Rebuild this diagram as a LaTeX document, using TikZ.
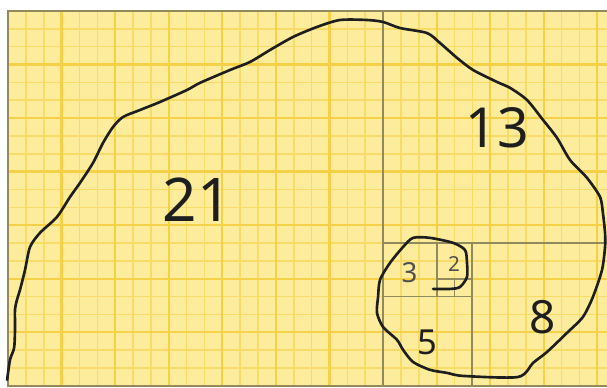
\documentclass[tikz,border=0pt]{standalone}
\usepackage{fontspec}
\setmainfont{Noto Sans}
\definecolor{papel}{HTML}{FCEC9C}
\definecolor{rejilla}{HTML}{F9DC68}
\definecolor{rejillaF}{HTML}{F6D046}
\definecolor{borde}{HTML}{918A5C}
\definecolor{tinta}{HTML}{1E1E1E}
\definecolor{gris}{HTML}{505050}

\begin{document}
\begin{tikzpicture}[line width=1pt,
  cuadro/.style={draw=borde,line width=2.8pt},
  num/.style={inner sep=0pt,text=tinta,font=\fontsize{#1}{#1}\selectfont}]
  \useasboundingbox (-0.45,-0.11) rectangle (33.54,21.61);
  \fill[white] (-0.45,-0.11) rectangle (33.54,21.61);
  % ===================== papel cuadriculado =====================
  \fill[papel] (0,0) rectangle (33.54,21);
  \foreach \x in {1,...,33} \draw[rejilla,line width=2.6pt] (\x,0)--(\x,21);
  \foreach \y in {1,...,20} \draw[rejilla,line width=2.6pt] (0,\y)--(33.54,\y);
  \foreach \x in {3,6,...,33} \draw[rejillaF,line width=3.6pt] (\x,0)--(\x,21);
  \foreach \y in {3,6,...,18} \draw[rejillaF,line width=3.6pt] (0,\y)--(33.54,\y);
  \draw[borde,line width=3pt] (33.54,21)--(0,21)--(0,0)--(33.54,0);
  % ===================== cuadrados de Fibonacci =====================
  \draw[cuadro] (21,0)--(21,21);
  \draw[cuadro] (21,8)--(33.54,8);
  \draw[cuadro] (26,0)--(26,8);
  \draw[cuadro] (21,5)--(26,5);
  \draw[cuadro] (24,5)--(24,8);
  \draw[cuadro] (24,6)--(26,6);
  \draw[cuadro] (25,5)--(25,6);
  % ---------- numeros ----------
  \node[num=96] (n21) at (10.6,10.4){21};
  \node[num=88] (n13) at (27.4,14.45){13};
  \node[num=73] (n8) at (29.95,3.86){8};
  \node[num=55] (n5) at (23.46,2.46){5};
  \node[num=44,text=gris] (n3) at (22.48,6.33){3};
  \node[num=33,text=gris] (n2) at (24.97,6.8){2};
  % ---------- espiral a mano ----------
  \draw[tinta,line width=4.2pt,line cap=round,line join=round]
    plot[smooth,tension=0.45] coordinates {
    (-0.05,0.34) (0.11,1.46) (0.34,2.13) (0.39,3.14) (0.39,4.26) (0.50,4.82)
    (0.67,5.38) (0.95,6.49) (1.23,7.78) (1.79,8.57) (2.74,9.46) (3.47,10.58)
    (4.03,11.37) (4.76,12.49) (5.32,13.61) (5.88,14.50) (6.44,15.06) (7.39,15.45)
    (8.51,15.90) (10.02,16.57) (10.75,16.97) (12.43,17.69) (13.55,18.14) (14.67,18.81)
    (15.96,19.54) (17.30,20.10) (18.59,20.49) (20.10,20.49) (21.00,20.38) (21.95,20.04)
    (23.46,19.76) (24.19,19.20) (25.14,18.37) (26.04,17.69) (27.38,17.02) (28.11,16.69)
    (29.06,16.01) (29.96,14.89) (30.74,13.89) (31.47,12.65) (32.42,11.65) (33.15,10.58)
    (33.31,9.69) (33.43,8.57) (33.43,7.78) (33.26,6.49) (32.75,4.98) (32.19,3.86)
    (31.30,2.97) (30.18,1.90) (29.40,1.29) (28.56,0.50) (25.48,0.56) (24.58,0.73)
    (23.63,0.90) (22.68,1.34) (22.12,2.02) (21.78,2.58) (21.00,3.30) (20.66,4.09)
    (20.72,4.98) (20.83,5.94) (21.39,6.89) (22.12,7.78) (22.68,8.29) (23.63,8.29)
    (24.92,8.01) (25.59,7.61) (25.70,6.89) (25.70,6.10) (25.31,5.54) (24.75,5.43)
    (23.80,5.43)};
\end{tikzpicture}
\end{document}
